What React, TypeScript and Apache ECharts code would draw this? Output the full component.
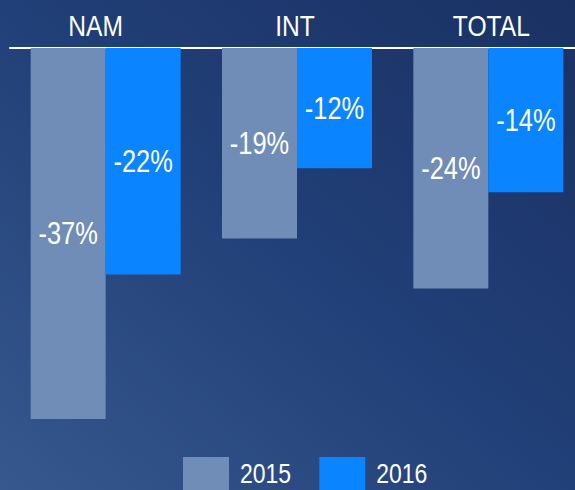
import React, { useEffect, useRef } from "react";
import * as echarts from "echarts";

const categories = ["NAM", "INT", "TOTAL"];
const series2015 = [-37, -19, -24];
const series2016 = [-22.6, -12, -14.4];
const seriesNames = ["2015", "2016"];

const FONT = "'Liberation Sans Narrow', 'Arial Narrow', 'Liberation Sans', Arial, sans-serif";
const SQUEEZE = 0.82;

export default function App() {
  const ref = useRef<HTMLDivElement>(null);
  useEffect(() => {
    document.body.style.margin = "0";
    const el = ref.current!;
    const chart = echarts.init(el, null, { renderer: "svg" });
    const labelShift: Record<string, number> = { NAM: -10, INT: -2, TOTAL: 3 };
    const compress = () => {
      el.querySelectorAll("text").forEach((t: any) => {
        if (t.getAttribute("data-cmp")) return;
        const len = t.getComputedTextLength();
        if (len > 0) {
          t.setAttribute("textLength", (len * SQUEEZE).toFixed(2));
          t.setAttribute("lengthAdjust", "spacingAndGlyphs");
          t.setAttribute("data-cmp", "1");
        }
      });
    };
    chart.on("finished", compress);
    chart.setOption({
      animation: false,
      backgroundColor: new echarts.graphic.LinearGradient(0, 1, 1, 0, [
        { offset: 0, color: "#36588e" },
        { offset: 0.5, color: "#213f78" },
        { offset: 1, color: "#1a3162" },
      ]),
      textStyle: { fontFamily: FONT },
      grid: { left: 10, top: 48, width: 574, height: 421, containLabel: false },
      legend: {
        data: seriesNames,
        left: 183,
        top: 457,
        padding: 0,
        itemWidth: 46,
        itemHeight: 33,
        itemGap: 17,
        icon: "rect",
        textStyle: { color: "#ffffff", fontSize: 28, fontFamily: FONT, padding: [0, 0, 0, 6] },
      },
      xAxis: {
        type: "category",
        position: "top",
        data: categories,
        axisLine: { show: true, lineStyle: { color: "#ffffff", width: 2 } },
        axisTick: { show: false },
        axisLabel: {
          interval: 0,
          color: "#ffffff",
          fontSize: 30,
          fontFamily: FONT,
          margin: 8,
          formatter: (v: string) => `{${v}|${v}}`,
          rich: Object.fromEntries(
            categories.map((c) => {
              const s = labelShift[c] || 0;
              return [
                c,
                {
                  color: "#ffffff",
                  fontSize: 30,
                  fontFamily: FONT,
                  padding: s < 0 ? [0, -2 * s, 0, 0] : [0, 0, 0, 2 * s],
                },
              ];
            })
          ),
        },
      },
      yAxis: {
        type: "value",
        min: -42,
        max: 0,
        show: false,
        splitLine: { show: false },
      },
      series: [
        {
          name: seriesNames[0],
          type: "bar",
          data: series2015,
          barWidth: 75,
          barGap: "0%",
          itemStyle: { color: "#6f8db6" },
          label: {
            show: true,
            position: "inside",
            color: "#ffffff",
            fontSize: 31,
            fontFamily: FONT,
            formatter: (p: any) => `${Math.trunc(p.value)}%`,
          },
        },
        {
          name: seriesNames[1],
          type: "bar",
          data: series2016,
          barWidth: 75,
          barGap: "0%",
          itemStyle: { color: "#0a85ff" },
          label: {
            show: true,
            position: "inside",
            color: "#ffffff",
            fontSize: 31,
            fontFamily: FONT,
            formatter: (p: any) => `${Math.trunc(p.value)}%`,
          },
        },
      ],
    });
    compress();
    const timer = setTimeout(compress, 50);
    return () => {
      clearTimeout(timer);
      chart.dispose();
    };
  }, []);
  return (
    <div style={{ position: "absolute", left: 0, top: 0, width: 575, height: 490, overflow: "hidden" }}>
      <div ref={ref} style={{ width: 584, height: 490 }} />
    </div>
  );
}
